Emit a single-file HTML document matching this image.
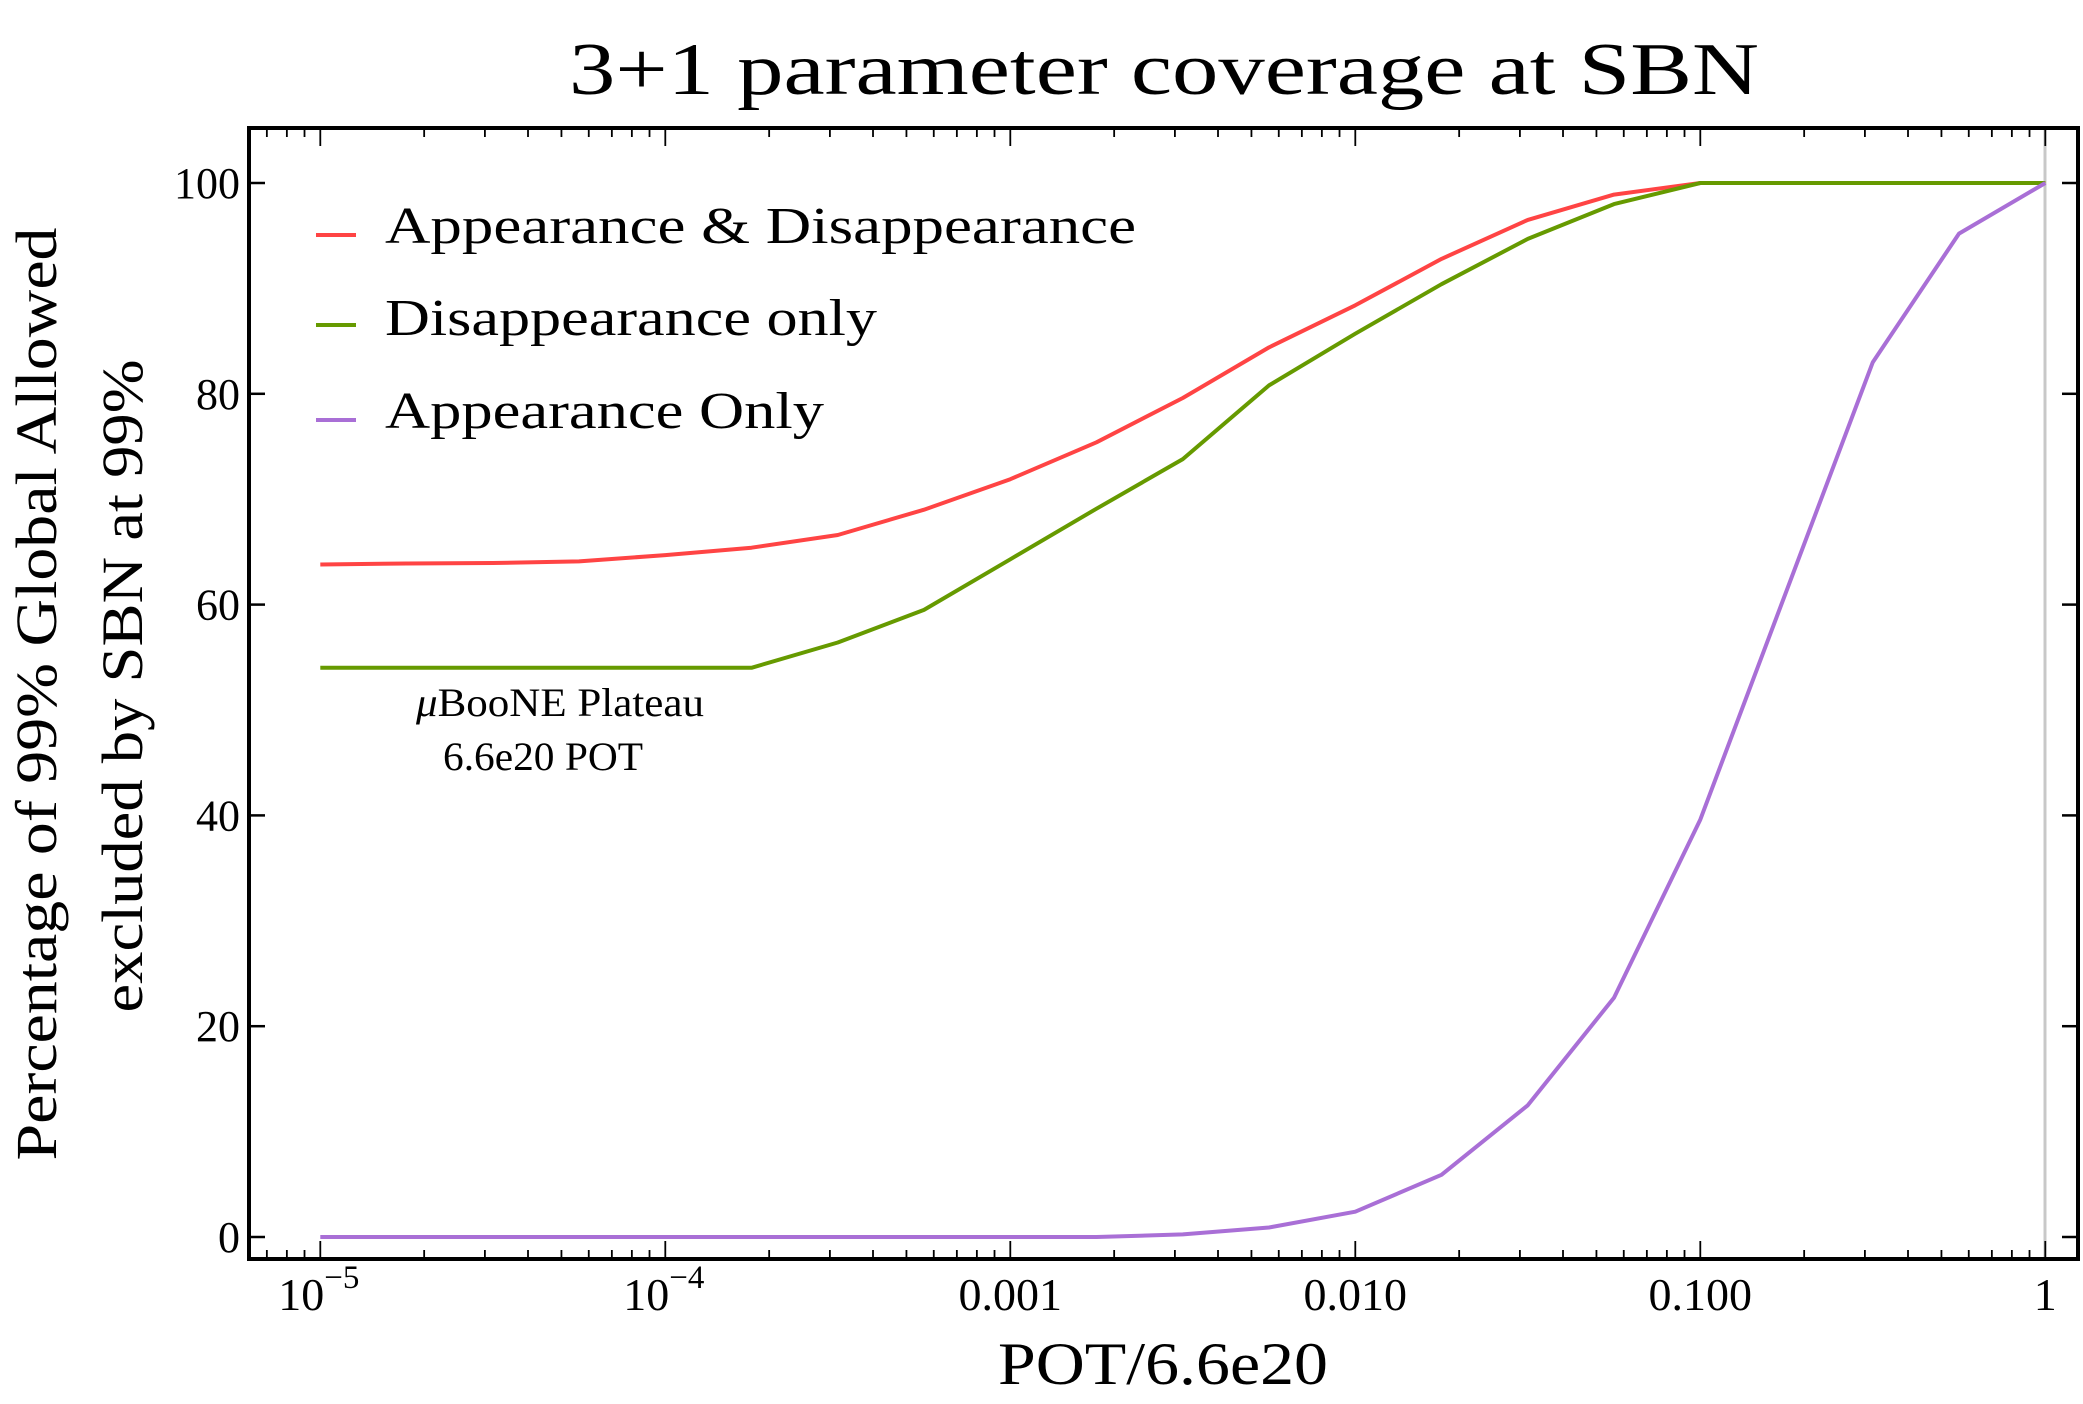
<!DOCTYPE html>
<html><head><meta charset="utf-8"><style>
html,body{margin:0;padding:0;background:#fff;}
svg{display:block;font-family:"Liberation Serif",serif;}
</style></head><body>
<svg id="chart" width="2083" height="1404" viewBox="0 0 2083 1404">
<text x="1164" y="94" font-size="74" text-anchor="middle" textLength="1190" lengthAdjust="spacingAndGlyphs">3+1 parameter coverage at SBN</text>
<g id="plot"></g>
<line x1="2045" y1="130" x2="2045" y2="1257" stroke="#c8c8c8" stroke-width="3"/>
<g id="series"></g>
<rect x="249" y="128" width="1829" height="1131" fill="none" stroke="#000" stroke-width="4"/>
<g id="ticks"></g>
<g>
 <g><line x1="316" y1="235" x2="356" y2="235" stroke="#ff4444" stroke-width="4"/><text x="385" y="243" font-size="52" textLength="751" lengthAdjust="spacingAndGlyphs">Appearance &amp; Disappearance</text></g>
 <g><line x1="316" y1="325" x2="356" y2="325" stroke="#669a00" stroke-width="4"/><text x="385" y="335" font-size="52" textLength="492" lengthAdjust="spacingAndGlyphs">Disappearance only</text></g>
 <g><line x1="316" y1="420" x2="356" y2="420" stroke="#a96fd6" stroke-width="4"/><text x="385" y="428" font-size="52" textLength="439" lengthAdjust="spacingAndGlyphs">Appearance Only</text></g>
</g>
<text x="560" y="716" font-size="40" text-anchor="middle" textLength="288" lengthAdjust="spacingAndGlyphs"><tspan font-style="italic">μ</tspan>BooNE Plateau</text>
<text x="543" y="770" font-size="40" text-anchor="middle" textLength="200" lengthAdjust="spacingAndGlyphs">6.6e20 POT</text>
<text x="1163" y="1384" font-size="60" text-anchor="middle" textLength="330" lengthAdjust="spacingAndGlyphs">POT/6.6e20</text>
<text transform="translate(56,694) rotate(-90)" font-size="58" text-anchor="middle" textLength="933" lengthAdjust="spacingAndGlyphs">Percentage of 99% Global Allowed</text>
<text transform="translate(142,686) rotate(-90)" font-size="58" text-anchor="middle" textLength="653" lengthAdjust="spacingAndGlyphs">excluded by SBN at 99%</text>
</svg>
<script>
const logX = [-5,-4.75,-4.5,-4.25,-4,-3.75,-3.5,-3.25,-3,-2.75,-2.5,-2.25,-2,-1.75,-1.5,-1.25,-1,-0.75,-0.5,-0.25,0];
const appDisapp = [63.8,63.9,63.95,64.1,64.7,65.4,66.6,69,71.9,75.4,79.6,84.4,88.4,92.8,96.5,98.9,100,100,100,100,100];
const disappOnly = [54,54,54,54,54,54,56.4,59.5,64.3,69.1,73.8,80.8,85.7,90.4,94.7,98,100,100,100,100,100];
const appOnly = [0,0,0,0,0,0,0,0,0,0,0.25,0.9,2.4,5.9,12.5,22.7,39.6,61.3,83,95.2,100];
const yTicks = [0,20,40,60,80,100];
const xMajor = [-5,-4,-3,-2,-1,0];
const xMajorLabels = ["10","10","0.001","0.010","0.100","1"];
const xMajorSup = ["-5","-4","","","",""];

const NS = "http://www.w3.org/2000/svg";
function sx(lx){ return 320.3 + (lx + 5) * 345; }
function sy(v){ return 1237 - v * (1237 - 183) / 100; }
function mk(tag, attrs, parent){ const e = document.createElementNS(NS, tag); for (const k in attrs) e.setAttribute(k, attrs[k]); parent.appendChild(e); return e; }

const series = document.getElementById('series');
const defs = [[appDisapp,'#ff4444','line-app-disapp'],[disappOnly,'#669a00','line-disapp-only'],[appOnly,'#a96fd6','line-app-only']];
for (const [vals, col, name] of defs) {
  const pts = vals.map((v,i) => sx(logX[i]).toFixed(1) + ',' + sy(v).toFixed(1)).join(' ');
  const pl = mk('polyline', {points: pts, fill: 'none', stroke: col, 'stroke-width': 4, 'stroke-linejoin': 'round'}, series);
  
  
}

const ticks = document.getElementById('ticks');
for (const v of yTicks) {
  const y = sy(v);
  const t1 = mk('line', {x1: 249, y1: y, x2: 265, y2: y, stroke: '#000', 'stroke-width': 2.5}, ticks);
  
  
  const t2 = mk('line', {x1: 2062, y1: y, x2: 2078, y2: y, stroke: '#000', 'stroke-width': 2.5}, ticks);
  
  
  const lb = mk('text', {x: 240, y: y + 15, 'font-size': 44, 'text-anchor': 'end'}, ticks);
  lb.textContent = String(v);
  
  
}
for (let d = -6; d <= 0; d++) {
  for (let m = 1; m <= 9; m++) {
    const lx = d + Math.log10(m);
    if (lx < -5.2 || lx > 0.1) continue;
    const x = sx(lx);
    if (x < 252 || x > 2075) continue;
    const len = m === 1 ? 18 : 9;
    const tb = mk('line', {x1: x, y1: 1259, x2: x, y2: 1259 - len, stroke: '#000', 'stroke-width': 1.8}, ticks);
    
    
    const tt = mk('line', {x1: x, y1: 128, x2: x, y2: 128 + len, stroke: '#000', 'stroke-width': 1.8}, ticks);
    
    
  }
}
xMajor.forEach((lx, i) => {
  const x = sx(lx);
  const lb = mk('text', {x: x, y: 1310, 'font-size': 46, 'text-anchor': 'middle'}, ticks);
  
  
  if (xMajorSup[i]) {
    lb.setAttribute('text-anchor', 'start');
    lb.setAttribute('x', x - 42);
    lb.appendChild(document.createTextNode(xMajorLabels[i]));
    const sp = mk('tspan', {dy: -22, 'font-size': 33}, lb);
    sp.textContent = '\u2212' + xMajorSup[i].slice(1);
  } else {
    lb.textContent = xMajorLabels[i];
  }
});
</script>
</body></html>
